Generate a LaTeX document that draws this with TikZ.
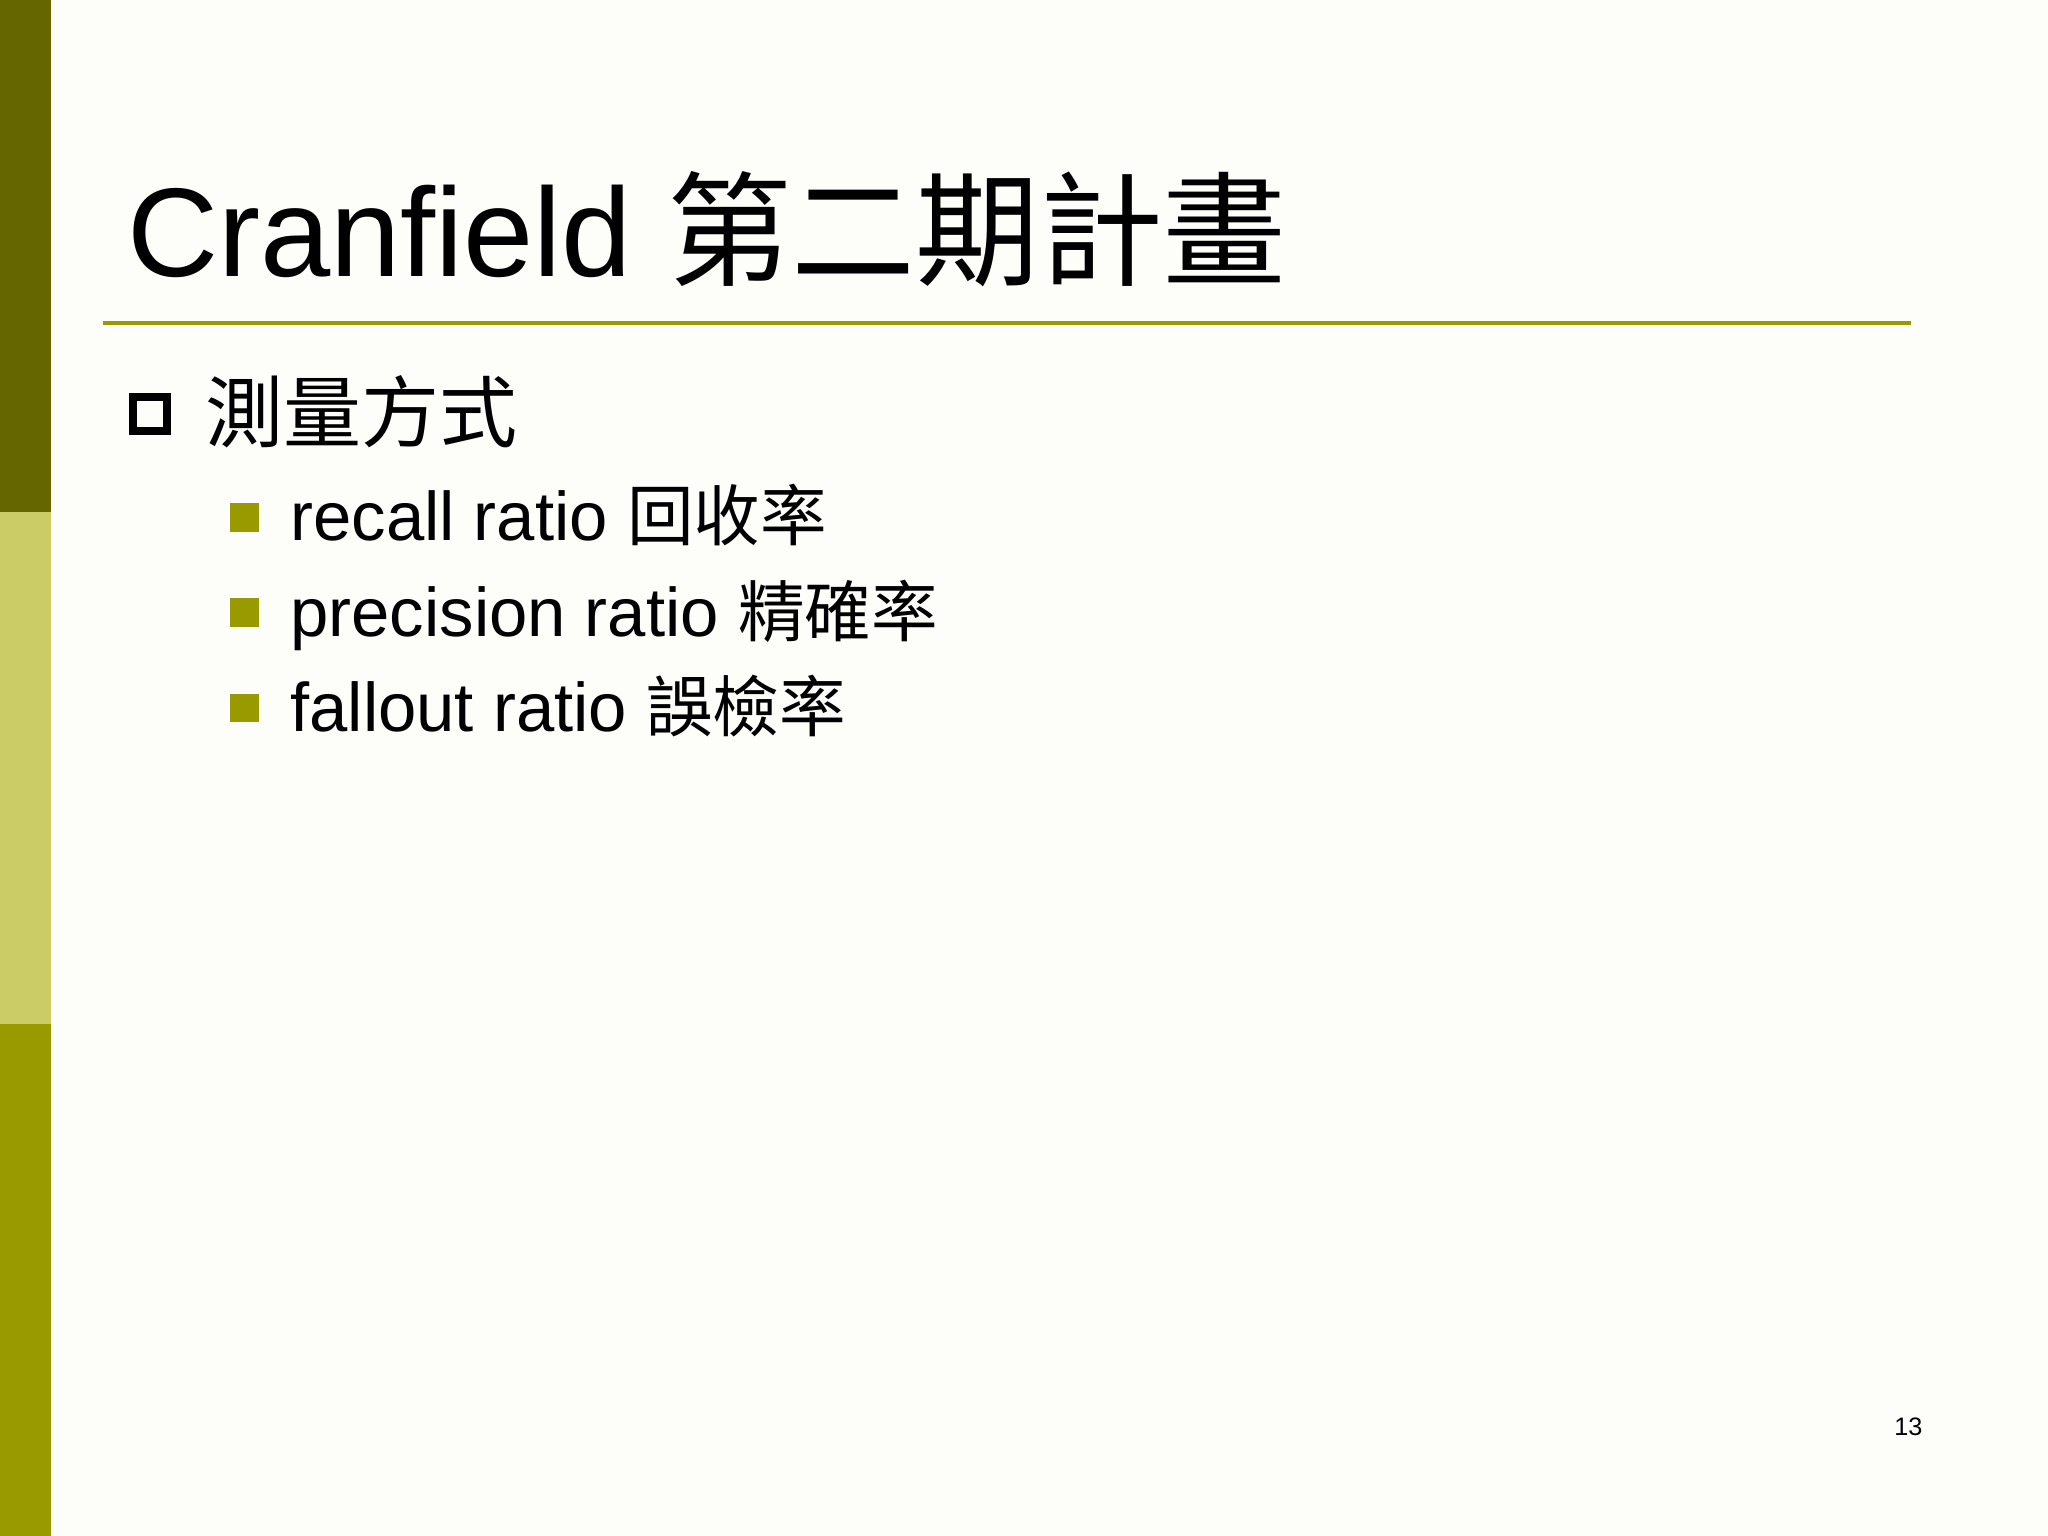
\documentclass[tikz,border=0pt]{standalone}
\usepackage{fontspec}
\setmainfont{Liberation Sans}
\newfontfamily\cjk{Noto Sans CJK TC}
\definecolor{olivedark}{HTML}{666600}
\definecolor{olivelight}{HTML}{CCCC66}
\definecolor{olivemid}{HTML}{999900}
\begin{document}
\begin{tikzpicture}[x=0.02cm,y=-0.02cm,
  txt/.style={anchor=base west,inner sep=0pt},
  sq/.style={fill=olivemid,draw=none}]
\useasboundingbox (0,0) rectangle (1568,1176);
\fill[white!97!olivelight] (0,0) rectangle (1568,1176);
\fill[olivedark] (0,0) rectangle (39,392);
\fill[olivelight] (0,392) rectangle (39,784);
\fill[olivemid] (0,784) rectangle (39,1176);
\draw[olivemid,line width=0.06cm] (79,247) -- (1463,247);
\node[txt,font=\fontsize{55}{55}\selectfont] (title) at (97,212) {Cranfield {\cjk\fontsize{54}{54}\selectfont 第二期計畫}};
\draw[line width=0.12cm] (102,304) rectangle (128,330);
\node[txt,font=\fontsize{34}{34}\selectfont\cjk] (head) at (157,338) {測量方式};
\fill[sq] (176,385) rectangle (198,407);
\node[txt,font=\fontsize{30}{30}\selectfont] (i1) at (222,414) {recall ratio {\cjk\fontsize{29}{29}\selectfont 回收率}};
\fill[sq] (176,458) rectangle (198,480);
\node[txt,font=\fontsize{30}{30}\selectfont] (i2) at (222,487) {precision ratio {\cjk\fontsize{29}{29}\selectfont 精確率}};
\fill[sq] (176,531) rectangle (198,553);
\node[txt,font=\fontsize{30}{30}\selectfont] (i3) at (222,560) {fallout ratio {\cjk\fontsize{29}{29}\selectfont 誤檢率}};
\node[txt,font=\fontsize{11}{11}\selectfont] (pg) at (1450,1099) {13};
\end{tikzpicture}
\end{document}
